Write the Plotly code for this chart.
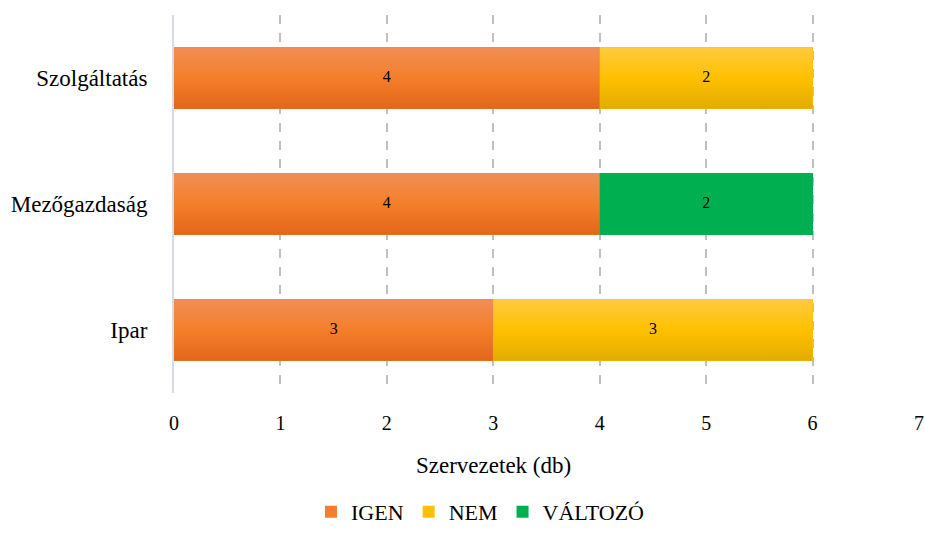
import plotly.graph_objects as go

# Szervezetek megoszlása ágazatonként
categories = ["Ipar", "Mezőgazdaság", "Szolgáltatás"]
series_names = ["IGEN", "NEM", "VÁLTOZÓ"]
igen = [3, 4, 4]
nem = [3, 0, 2]
valtozo = [0, 2, 0]
x_ticks = [0, 1, 2, 3, 4, 5, 6, 7]

series_values = [igen, nem, valtozo]
# (solid legend colour, gradient bottom, gradient top)
palette = [
    ("#F47F2A", "#E2661A", "#F18E56"),
    ("#FFC000", "#E2AC00", "#FFCA3F"),
    ("#00B050", "#00B050", "#00B050"),
]

BAR_W = 0.49
FONT = "Liberation Serif"

fig = go.Figure()
ypos = list(range(len(categories)))

# solid bars (also give the legend its square swatches)
for name, vals, col in zip(series_names, series_values, palette):
    fig.add_trace(go.Bar(
        y=ypos, x=vals, name=name, orientation="h", width=BAR_W,
        marker=dict(color=col[0], line=dict(width=0)),
        hoverinfo="skip",
    ))

# vertical gradient overlay and value labels for every non-empty segment
base = [0] * len(categories)
lab_x, lab_y, lab_t = [], [], []
for name, vals, col in zip(series_names, series_values, palette):
    for i, v in enumerate(vals):
        if v > 0:
            x0, x1 = base[i], base[i] + v
            y0, y1 = i - BAR_W / 2, i + BAR_W / 2
            fig.add_trace(go.Scatter(
                x=[x0, x1, x1, x0, x0], y=[y0, y0, y1, y1, y0],
                mode="lines", line=dict(width=0), fill="toself",
                fillgradient=dict(type="vertical",
                                  colorscale=[[0, col[1]], [0.5, col[0]], [1, col[2]]]),
                showlegend=False, hoverinfo="skip",
            ))
            lab_x.append((x0 + x1) / 2)
            lab_y.append(i)
            lab_t.append(str(v))
        base[i] += v

fig.add_trace(go.Scatter(
    x=lab_x, y=lab_y, text=lab_t, mode="text",
    textfont=dict(family=FONT, size=16, color="#000000"),
    showlegend=False, hoverinfo="skip",
))

fig.update_layout(
    width=925, height=534,
    margin=dict(l=174, r=6, t=15, b=141, autoexpand=False),
    barmode="stack",
    plot_bgcolor="white", paper_bgcolor="white",
    font=dict(family=FONT, size=20, color="#000000"),
    xaxis=dict(
        range=[0, 7], tickvals=x_ticks, ticks="", automargin=False,
        showgrid=True, gridcolor="#BFBFBF", gridwidth=2, griddash="dash",
        zeroline=False, showline=False,
        tickfont=dict(family=FONT, size=20, color="#000000"),
        ticklabelstandoff=16,
    ),
    yaxis=dict(
        range=[-0.5, 2.5], tickvals=ypos, ticktext=categories, automargin=False,
        showgrid=False, zeroline=False,
        showline=True, linecolor="#D6DCE5", linewidth=2,
        ticks="", ticklabelstandoff=20,
        tickfont=dict(family=FONT, size=23, color="#000000"),
    ),
    legend=dict(
        orientation="h", x=311 / 925, xref="container", xanchor="left",
        y=0.002, yref="container", yanchor="bottom",
        font=dict(family=FONT, size=22, color="#000000"),
        traceorder="normal", itemwidth=30,
        bgcolor="rgba(0,0,0,0)",
    ),
    annotations=[dict(
        text="Szervezetek (db)", xref="paper", yref="paper",
        x=(493 - 174) / 745, y=(393 - 466) / 378, xanchor="center", yanchor="middle",
        showarrow=False, font=dict(family=FONT, size=23, color="#000000"),
    )],
)

fig.write_html("out.html")
